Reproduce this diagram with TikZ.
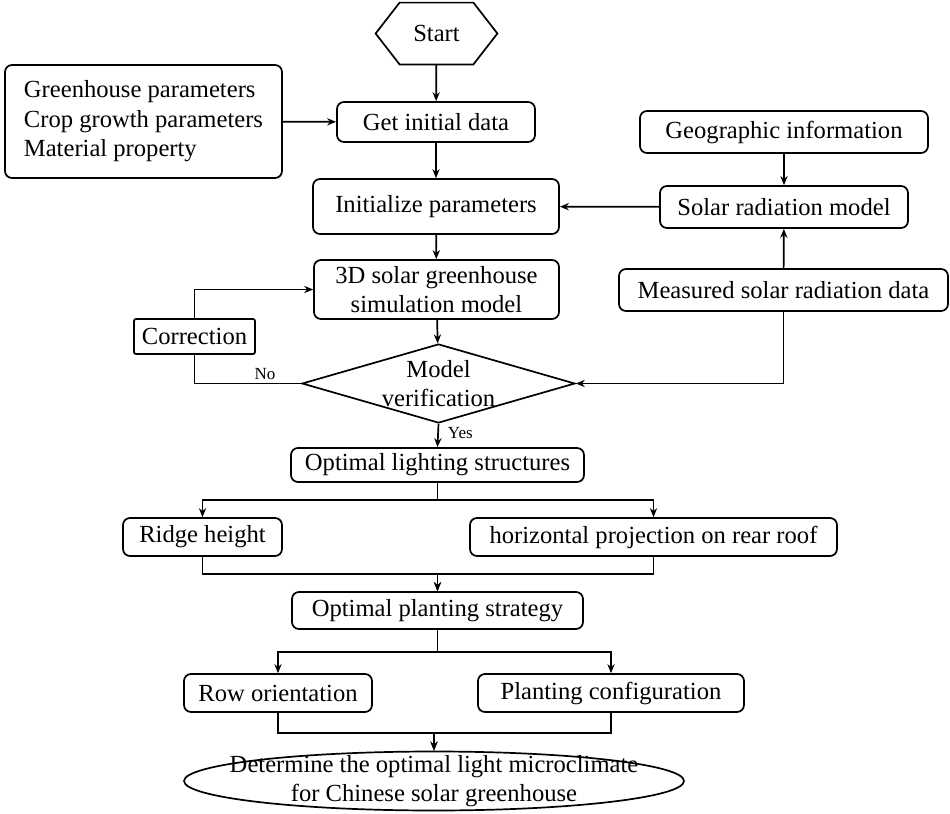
\documentclass[tikz,border=0pt]{standalone}
\usepackage{fontspec}
\setmainfont{Liberation Serif}
\usetikzlibrary{arrows.meta,shapes}
\tikzset{
    %Define standard arrow tip
    >={Stealth[length=4.5pt,width=3.6pt]},
    %Define style for boxes
    box/.style={
           rectangle,
           rounded corners=3.5pt,
           draw=black, line width=0.85pt,
           inner sep=2pt,
           text centered},
    hexbox/.style={
           rectangle,
           inner sep=2pt,
           minimum width=60.5pt,
           minimum height=30.5pt},
    decision/.style={
           diamond,
           draw=black, line width=0.85pt,
           inner sep=0pt,
           minimum width=136.5pt,
           minimum height=39.5pt},
    terminal/.style={
           ellipse,
           draw=black, line width=0.85pt,
           inner sep=0pt,
           minimum width=250pt,
           minimum height=29.5pt},
    annot/.style={
           font=\fontsize{8.5pt}{10pt}\selectfont,
           inner sep=1.5pt},
    % Define arrow style
    arr/.style={
           ->,
           line width=0.85pt},
    conn/.style={
           line width=0.85pt}
}

\begin{document}
\begin{tikzpicture}[x=0.5pt, y=-0.5pt, font=\fontsize{12.3pt}{14.8pt}\selectfont]
  \useasboundingbox (0,0) rectangle (950,814);

  \node[hexbox] (start) at (436.5,33.5) {Start};
  \draw[conn] (start.west) -- ([xshift=12pt]start.north west)
    -- ([xshift=-12pt]start.north east) -- (start.east)
    -- ([xshift=-12pt]start.south east) -- ([xshift=12pt]start.south west) -- cycle;

  \node[box, align=left, minimum width=138.5pt, minimum height=56.5pt] (params) at (143.5,121.5)
    {Greenhouse parameters\\Crop growth parameters\\Material property};
  \node[box, minimum width=99pt, minimum height=20pt] (getdata) at (436,122) {Get initial data};
  \node[box, minimum width=123pt, minimum height=27.5pt] (init) at (436,206.5) {Initialize parameters};
  \node[box, minimum width=144pt, minimum height=21pt] (geo) at (784,132) {Geographic information};
  \node[box, minimum width=124pt, minimum height=21pt] (solar) at (784,207) {Solar radiation model};
  \node[box, minimum width=164.5pt, minimum height=21pt] (measured) at (783.5,290) {Measured solar radiation data};
  \node[box, align=center, minimum width=122.5pt, minimum height=29.5pt] (sim) at (436.5,289.5)
    {3D solar greenhouse\\simulation model};
  \node[box, rounded corners=1pt, minimum width=60.5pt, minimum height=17.5pt] (correction) at (194.5,336.5) {Correction};
  \node[decision, label={[align=center]center:Model\\verification}] (verify) at (438.5,383.5) {};

  \node[box, minimum width=146.5pt, minimum height=17pt] (lighting) at (437.5,465) {Optimal lighting structures};
  \node[box, minimum width=79.5pt, minimum height=19pt] (ridge) at (202.5,537) {Ridge height};
  \node[box, minimum width=183.5pt, minimum height=19pt] (proj) at (653.5,537) {horizontal projection on rear roof};
  \node[box, minimum width=145.5pt, minimum height=18.5pt] (planting) at (437.5,610.5) {Optimal planting strategy};
  \node[box, minimum width=94pt, minimum height=19pt] (row) at (278,693) {Row orientation};
  \node[box, minimum width=133pt, minimum height=19pt] (config) at (611,693) {Planting configuration};
  \node[terminal, label={[align=center]center:Determine the optimal light microclimate\\for Chinese solar greenhouse}]
    (result) at (434,781) {};

  % Main flow
  \draw[arr] (start) -- (getdata);
  \draw[arr] (params) -- (getdata);
  \draw[arr] (getdata) -- (init);
  \draw[arr] (init) -- (sim);
  \draw[arr] (sim) -- (verify);

  % Solar radiation branch
  \draw[arr] (geo) -- (solar);
  \draw[arr] (solar) -- (init);
  \draw[arr] (measured) -- (solar);
  \draw[arr] (measured.south) |- (verify.east);

  % Correction loop
  \draw[conn] (verify.west) -| node[annot, above, pos=0.17] {No} (correction.south);
  \draw[arr] (correction.north) |- (sim.west);
  \draw[arr] (verify.south) -- node[annot, right=3pt, pos=0.4] {Yes} (lighting.north);

  % Structures and strategy
  \draw[arr] (lighting.south) -- ++(0,17) -| (ridge.north);
  \draw[arr] (lighting.south) -- ++(0,17) -| (proj.north);
  \draw[arr] (ridge.south) -- ++(0,17) -| (planting.north);
  \draw[arr] (proj.south) -- ++(0,17) -| (planting.north);
  \draw[arr] (planting.south) -- ++(0,22) -| (row.north);
  \draw[arr] (planting.south) -- ++(0,22) -| (config.north);
  \draw[arr] (row.south) -- ++(0,20) -| (result.north);
  \draw[arr] (config.south) -- ++(0,20) -| (result.north);
\end{tikzpicture}
\end{document}
